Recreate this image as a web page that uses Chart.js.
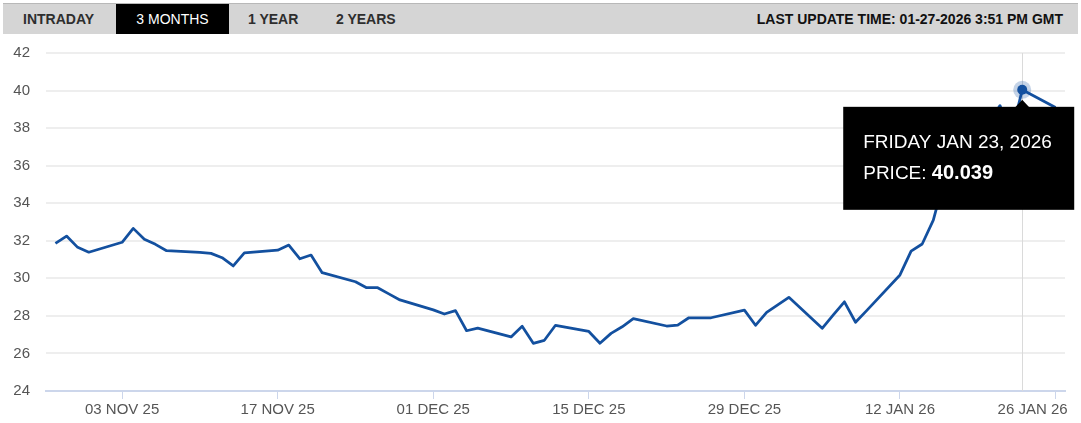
<!DOCTYPE html>
<html>
<head>
<meta charset="utf-8">
<script src="https://cdn.jsdelivr.net/npm/chart.js@4.4.1/dist/chart.umd.min.js"></script>
<style>
html,body{margin:0;padding:0;background:#fff;width:1081px;height:423px;overflow:hidden;font-family:"Liberation Sans",Arial,sans-serif;}
#wrap{position:relative;width:1081px;height:423px;}
#c{position:absolute;left:0;top:0;}
#bar{position:absolute;left:3px;top:3px;width:1075px;height:31px;background:#d5d5d5;border-top:1px solid #b8b8b8;box-sizing:border-box;}
.tab{position:absolute;top:0;height:30px;line-height:30px;font-size:14px;font-weight:bold;color:#2e2e2e;white-space:nowrap;}
.tab.active{background:#000;color:#fff;font-weight:normal;text-align:center;top:0;}
#upd{position:absolute;right:15px;top:0;height:30px;line-height:30px;font-size:14px;font-weight:bold;color:#111;white-space:nowrap;}
</style>
</head>
<body>
<div id="wrap">
  <canvas id="c" width="1081" height="423"></canvas>
  <div id="bar">
    <div class="tab" style="left:20px">INTRADAY</div>
    <div class="tab active" style="left:113px;width:113px">3 MONTHS</div>
    <div class="tab" style="left:245px">1 YEAR</div>
    <div class="tab" style="left:333px">2 YEARS</div>
    <div id="upd">LAST UPDATE TIME: 01-27-2026 3:51 PM GMT</div>
  </div>
</div>
<script>
// ---- data ----
const dates = [
  '2025-10-28','2025-10-29','2025-10-30','2025-10-31',
  '2025-11-03','2025-11-04','2025-11-05','2025-11-06','2025-11-07',
  '2025-11-10','2025-11-11','2025-11-12','2025-11-13','2025-11-14',
  '2025-11-17','2025-11-18','2025-11-19','2025-11-20','2025-11-21',
  '2025-11-24','2025-11-25','2025-11-26','2025-11-27','2025-11-28',
  '2025-12-01','2025-12-02','2025-12-03','2025-12-04','2025-12-05',
  '2025-12-08','2025-12-09','2025-12-10','2025-12-11','2025-12-12',
  '2025-12-15','2025-12-16','2025-12-17','2025-12-18','2025-12-19',
  '2025-12-22','2025-12-23','2025-12-24','2025-12-26',
  '2025-12-29','2025-12-30','2025-12-31','2026-01-02',
  '2026-01-05','2026-01-06','2026-01-07','2026-01-08','2026-01-09',
  '2026-01-12','2026-01-13','2026-01-14','2026-01-15','2026-01-16',
  '2026-01-19','2026-01-20','2026-01-21','2026-01-22','2026-01-23',
  '2026-01-26'
];
const prices = [
  31.86, 32.25, 31.65, 31.39,
  31.92, 32.66, 32.08, 31.81, 31.47,
  31.38, 31.33, 31.10, 30.66, 31.36,
  31.50, 31.77, 31.04, 31.24, 30.30,
  29.82, 29.50, 29.50, 29.17, 28.85,
  28.32, 28.10, 28.28, 27.21, 27.35,
  26.88, 27.45, 26.54, 26.70, 27.50,
  27.17, 26.54, 27.07, 27.42, 27.85,
  27.46, 27.51, 27.90, 27.90,
  28.31, 27.50, 28.19, 28.99,
  27.34, 28.05, 28.75, 27.66, 28.28,
  30.18, 31.45, 31.83, 33.10, 35.30,
  36.60, 38.30, 39.20, 37.60, 40.039,
  39.10
];
const tickDates  = ['2025-11-03','2025-11-17','2025-12-01','2025-12-15','2025-12-29','2026-01-12','2026-01-26'];
const tickLabels = ['03 NOV 25','17 NOV 25','01 DEC 25','15 DEC 25','29 DEC 25','12 JAN 26','26 JAN 26'];
const yMin = 24, yMax = 42, yStep = 2;
const highlightDate = '2026-01-23';
const tooltipTitle = 'FRIDAY JAN 23, 2026';
const tooltipLabel = 'PRICE: ';

// ---- helpers ----
const dayNum = s => Date.UTC(+s.slice(0,4), +s.slice(5,7) - 1, +s.slice(8,10)) / 86400000;
const points = dates.map((d, i) => ({ x: dayNum(d), y: prices[i] }));
const hiIdx = dates.indexOf(highlightDate);
const FONT = '"Liberation Sans", Arial, sans-serif';
Chart.defaults.font.family = FONT;

const hoverPlugin = {
  id: 'hoverMark',
  beforeDatasetsDraw(chart) {
    const el = chart.getDatasetMeta(0).data[hiIdx];
    const a = chart.chartArea, ctx = chart.ctx;
    ctx.save();
    ctx.strokeStyle = '#dadada';
    ctx.lineWidth = 1;
    const x = Math.round(el.x) + 0.5;
    ctx.beginPath(); ctx.moveTo(x, a.top); ctx.lineTo(x, a.bottom); ctx.stroke();
    ctx.restore();
  },
  afterDatasetsDraw(chart) {
    const el = chart.getDatasetMeta(0).data[hiIdx];
    const ctx = chart.ctx;
    ctx.save();
    ctx.fillStyle = 'rgba(19,80,159,0.25)';
    ctx.beginPath(); ctx.arc(el.x, el.y, 9, 0, Math.PI * 2); ctx.fill();
    ctx.fillStyle = '#13509f';
    ctx.beginPath(); ctx.arc(el.x, el.y, 5, 0, Math.PI * 2); ctx.fill();
    ctx.restore();
  },
  afterDraw(chart) {
    const el = chart.getDatasetMeta(0).data[hiIdx];
    const ctx = chart.ctx;
    const left = el.x - 179, top = el.y + 17, w = 231, h = 103;
    ctx.save();
    ctx.fillStyle = '#000';
    ctx.fillRect(left, top, w, h);
    ctx.beginPath();
    ctx.moveTo(el.x - 7, top + 0.5); ctx.lineTo(el.x, top - 7); ctx.lineTo(el.x + 7, top + 0.5);
    ctx.closePath(); ctx.fill();
    ctx.fillStyle = '#fff';
    ctx.textBaseline = 'middle';
    ctx.textAlign = 'left';
    ctx.font = '19px ' + FONT;
    ctx.fillText(tooltipTitle, left + 20, top + 36);
    ctx.fillText(tooltipLabel, left + 20, top + 67);
    const lw = ctx.measureText(tooltipLabel).width;
    ctx.font = 'bold 20px ' + FONT;
    ctx.fillText(prices[hiIdx].toFixed(3), left + 20 + lw, top + 67);
    ctx.restore();
  }
};

new Chart(document.getElementById('c'), {
  type: 'line',
  data: {
    datasets: [{
      data: points,
      borderColor: '#13509f',
      borderWidth: 2.75,
      borderJoinStyle: 'round',
      pointRadius: 0,
      pointHoverRadius: 0,
      tension: 0,
      fill: false
    }]
  },
  options: {
    responsive: false,
    animation: false,
    events: [],
    layout: { padding: { top: 53, right: 16, left: 0, bottom: 0 } },
    plugins: { legend: { display: false }, tooltip: { enabled: false } },
    scales: {
      x: {
        type: 'linear',
        min: dayNum(dates[0]) - 0.85,
        max: dayNum(dates[dates.length - 1]) + 0.85,
        afterBuildTicks: s => { s.ticks = tickDates.map(d => ({ value: dayNum(d) })); },
        afterFit: s => { s.height = 32; s.paddingLeft = 0; s.paddingRight = 0; },
        grid: { drawOnChartArea: false, color: '#ccd6eb', tickLength: 8, lineWidth: 1 },
        border: { color: '#ccd6eb', width: 2 },
        ticks: {
          autoSkip: false, maxRotation: 0, padding: 2,
          color: '#555', font: { size: 15 },
          callback: (v) => {
            const i = tickDates.findIndex(d => dayNum(d) === v);
            if (i < 0) return '';
            return i === tickLabels.length - 1 ? tickLabels[i] + '\u00a0'.repeat(11) : tickLabels[i];
          }
        }
      },
      y: {
        min: yMin, max: yMax,
        afterFit: s => { s.width = 46; },
        grid: { color: '#eeeeee', lineWidth: 2, drawTicks: false },
        border: { display: false },
        ticks: { stepSize: yStep, color: '#555', font: { size: 15 }, padding: 16 }
      }
    }
  },
  plugins: [hoverPlugin]
});
</script>
</body>
</html>
